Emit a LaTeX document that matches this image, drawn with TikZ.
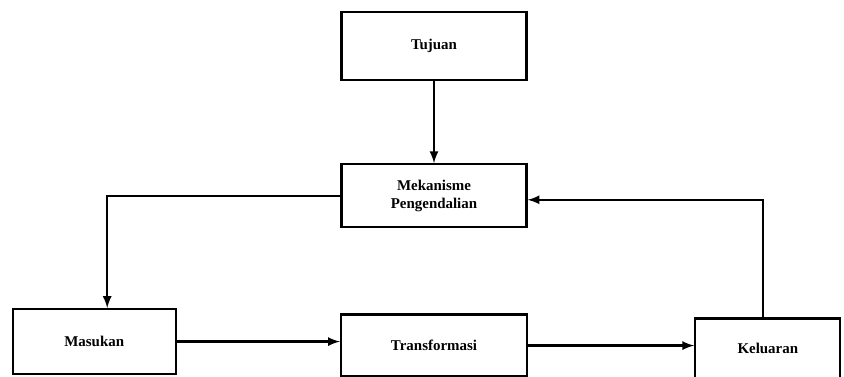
\documentclass[tikz,border=0pt]{standalone}
\usepackage{fontspec}
\setmainfont{Liberation Serif}
\usepackage{tikz}
\usetikzlibrary{positioning,arrows}

\tikzset{
	blok/.style={draw, line width=1.3pt, align=center,
		font=\fontsize{8.5}{10}\selectfont\bfseries},
	panah/.style={-latex, line width=1.3pt}
}

\begin{document}
\begin{tikzpicture}[node distance=1.64cm]
		\useasboundingbox (0,0) rectangle (16.88,-7.52);
		
		\node (tuj) [blok, minimum width=3.7cm, minimum height=1.36cm] at (8.68,-0.92) {Tujuan};
		\node (mek) [blok, minimum width=3.7cm, minimum height=1.26cm, below=of tuj] {Mekanisme\\Pengendalian};
		\node (tra) [blok, minimum width=3.72cm, minimum height=1.24cm, below=1.7cm of mek] {Transformasi};
		\node (mas) [blok, minimum width=3.26cm, minimum height=1.3cm, left=3.26cm of tra, yshift=0.08cm] {Masukan};
		\node (kel) [blok, minimum width=2.9cm, minimum height=1.2cm, right=3.32cm of tra, yshift=-0.06cm] {Keluaran};
		
		\draw [panah] (tuj) to (mek);
		\draw [panah] (mek.west) -| ([xshift=0.26cm]mas.north);
		\draw [panah] (mas.east) to (mas.east -| tra.west);
		\draw [panah] (tra.east) to (tra.east -| kel.west);
		\draw [panah] ([xshift=-0.1cm]kel.north) |- ([yshift=-0.08cm]mek.east);
	\end{tikzpicture}
\end{document}
